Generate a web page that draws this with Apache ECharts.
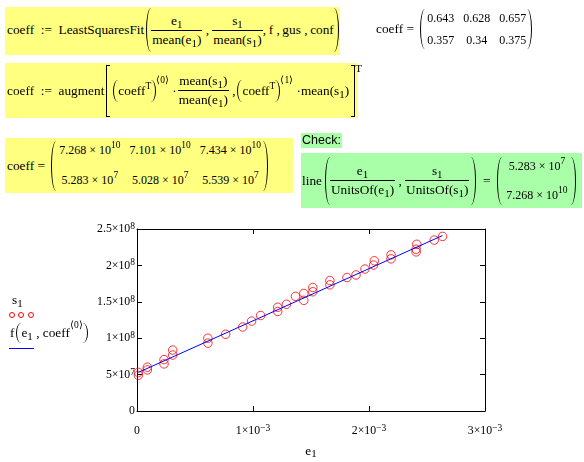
<!DOCTYPE html>
<html><head><meta charset="utf-8">
<script src="https://cdn.jsdelivr.net/npm/echarts@6/dist/echarts.min.js"></script>
<style>
html,body{margin:0;padding:0;background:#fff;}
#wrap{position:relative;width:584px;height:462px;overflow:hidden;font-family:'Liberation Serif','Times New Roman',serif;font-size:13.3px;color:#000;}
#chart{position:absolute;left:0;top:0;width:584px;height:462px;}
.box{position:absolute;}
.y{background:#ffff80;}
.g{background:#a8ffa8;}
.row{position:absolute;display:flex;align-items:center;white-space:pre;line-height:1;}
.frac{display:inline-flex;flex-direction:column;align-items:stretch;text-align:center;}
.frac>.n{border-bottom:1px solid #000;padding:0 1px 2px;height:14px;line-height:14px;}
.frac>.d{padding:2px 1px 0;height:14px;line-height:14px;}
.sb{font-size:11px;position:relative;top:3px;}
.sp{font-size:9.5px;position:relative;top:-6px;}
.lp,.rp{display:inline-block;width:5px;box-sizing:border-box;flex:none;}
.lp{border-left:1px solid #000;border-radius:100% 0 0 100%/50% 0 0 50%;}
.rp{border-right:1px solid #000;border-radius:0 100% 100% 0/0 50% 50% 0;}
.lb{display:inline-block;width:4px;box-sizing:border-box;border:1px solid #000;border-right:none;flex:none;}
.rb{display:inline-block;width:4px;box-sizing:border-box;border:1px solid #000;border-left:none;flex:none;}
.mat{display:inline-grid;justify-items:center;align-items:center;font-size:12px;line-height:12px;}
.mat .sp{font-size:9.5px;top:-6px;}
.circ{position:absolute;width:6px;height:6px;box-sizing:border-box;border:1px solid #f00;border-radius:50%;}
</style>
</head>
<body>
<div id="wrap">
<div id="chart"></div>

<!-- box 1 -->
<div class="box y" style="left:5px;top:7px;width:335px;height:48px;"></div>
<div class="row" style="left:7px;top:7px;height:46px;">
<span>coeff  :=  LeastSquaresFit</span><span class="lp" style="height:44px;margin-left:2px;"></span><span class="frac" style="margin-left:0px;"><span class="n">e<span class="sb">1</span></span><span class="d">mean(e<span class="sb">1</span>)</span></span><span> , </span><span class="frac"><span class="n">s<span class="sb">1</span></span><span class="d">mean(s<span class="sb">1</span>)</span></span><span>,&#8201;f ,&#8201;gus ,&#8201;conf</span><span class="rp" style="height:44px;margin-left:0px;"></span>
</div>

<!-- coeff = small matrix -->
<div class="row" style="left:376px;top:8px;height:42px;">
<span>coeff = </span><span class="lp" style="height:40px;margin-left:3px;"></span><span class="mat" style="grid-template-columns:repeat(3,auto);column-gap:9px;row-gap:10px;margin:0 1px 0 2px;"><span>0.643</span><span>0.628</span><span>0.657</span><span>0.357</span><span>0.34</span><span>0.375</span></span><span class="rp" style="height:40px;"></span>
</div>

<!-- box 2 -->
<div class="box y" style="left:5px;top:63px;width:353px;height:55px;"></div>
<div class="row" style="left:7px;top:63px;height:55px;">
<span>coeff  :=  augment</span><span class="lb" style="height:52px;margin-left:2px;"></span><span class="lp" style="height:22px;margin-left:3px;"></span><span>coeff<span class="sp">T</span></span><span class="rp" style="height:22px;"></span><span class="sp" style="top:-10px;">⟨0⟩</span><span> ·</span><span class="frac" style="margin-left:1px;"><span class="n">mean(s<span class="sb">1</span>)</span><span class="d">mean(e<span class="sb">1</span>)</span></span><span> ,</span><span class="lp" style="height:22px;margin-left:2px;"></span><span>coeff<span class="sp">T</span></span><span class="rp" style="height:22px;"></span><span class="sp" style="top:-10px;">⟨1⟩</span><span> ·mean(s<span class="sb">1</span>)</span><span class="rb" style="height:52px;margin-left:2px;"></span><span class="sp" style="top:-22px;font-size:11px;">T</span>
</div>

<!-- box 3 -->
<div class="box y" style="left:5px;top:138px;width:288px;height:55px;"></div>
<div class="row" style="left:7px;top:138px;height:55px;">
<span>coeff = </span><span class="lp" style="height:50px;margin-left:3px;"></span><span class="mat" style="grid-template-columns:repeat(3,auto);column-gap:9px;row-gap:17px;margin:0 2px 0 3px;"><span>7.268 × 10<span class="sp">10</span></span><span>7.101 × 10<span class="sp">10</span></span><span>7.434 × 10<span class="sp">10</span></span><span>5.283 × 10<span class="sp">7</span></span><span>5.028 × 10<span class="sp">7</span></span><span>5.539 × 10<span class="sp">7</span></span></span><span class="rp" style="height:50px;"></span>
</div>

<!-- Check -->
<div class="box g" style="left:301px;top:133px;width:41px;height:15px;font-family:'Liberation Sans',Arial,sans-serif;font-size:12.5px;line-height:15px;padding-left:1px;box-sizing:border-box;">Check:</div>

<!-- green box -->
<div class="box g" style="left:301px;top:153px;width:281px;height:55px;"></div>
<div class="row" style="left:302px;top:153px;height:55px;">
<span>line</span><span class="lp" style="height:48px;margin-left:3px;"></span><span class="frac"><span class="n">e<span class="sb">1</span></span><span class="d">UnitsOf(e<span class="sb">1</span>)</span></span><span> , </span><span class="frac"><span class="n">s<span class="sb">1</span></span><span class="d">UnitsOf(s<span class="sb">1</span>)</span></span><span class="rp" style="height:48px;margin-left:2px;"></span><span>  =  </span><span class="lp" style="height:48px;"></span><span class="mat" style="grid-template-columns:auto;row-gap:16px;margin:0 3px 0 4px;"><span>5.283 × 10<span class="sp">7</span></span><span>7.268 × 10<span class="sp">10</span></span></span><span class="rp" style="height:48px;"></span>
</div>

<!-- legend -->
<div class="row" style="left:12px;top:293px;height:14px;"><span>s<span class="sb">1</span></span></div>
<div class="circ" style="left:9px;top:312px;"></div>
<div class="circ" style="left:18px;top:312px;"></div>
<div class="circ" style="left:28px;top:312px;"></div>
<div class="row" style="left:10px;top:322px;height:22px;"><span>f</span><span class="lp" style="height:20px;margin-left:2px;"></span><span>e<span class="sb">1</span> , coeff</span><span class="sp" style="top:-7px;">⟨0⟩</span><span class="rp" style="height:20px;"></span></div>
<div style="position:absolute;left:9px;top:348px;width:25px;height:1px;background:#0000ff;"></div>
</div>

<script>
const e1 = [0.0000115,0.0000115,0.000089,0.000089,0.000233,0.000233,0.000308,0.000308,0.000611,0.000611,
  0.000764,0.000911,0.000988,0.001066,0.001213,0.001213,0.001288,0.001366,0.001438,0.001438,
  0.001516,0.001516,0.001663,0.001663,0.001810,0.001888,0.001965,0.002040,0.002046,0.002190,
  0.002190,0.002406,0.002406,0.002412,0.002562,0.002634];
const s1 = [4.9e7,5.3e7,5.65e7,6.02e7,6.47e7,7.06e7,7.69e7,8.37e7,9.32e7,1.0e8,
  1.054e8,1.154e8,1.235e8,1.312e8,1.367e8,1.425e8,1.466e8,1.575e8,1.520e8,1.615e8,
  1.638e8,1.697e8,1.733e8,1.792e8,1.833e8,1.869e8,1.950e8,2.005e8,2.063e8,2.090e8,
  2.145e8,2.186e8,2.222e8,2.29e8,2.348e8,2.398e8];
// fitted line as drawn
const fitE = [0.0000115, 0.002634];
const fitS = [5.3e7, 2.41e8];
// tick labels
const xTickBase = ['0','1×10','2×10','3×10'];
const xTickExp  = ['','−3','−3','−3'];
const yTickBase = ['0','5×10','1×10','1.5×10','2×10','2.5×10'];
const yTickExp  = ['','7','8','8','8','8'];

const FF = "'Liberation Serif','Times New Roman',serif";
const rich = {
  n:{fontFamily:FF,fontSize:11.8,color:'#000',lineHeight:15},
  s:{fontFamily:FF,fontSize:9.5,color:'#000',lineHeight:8,verticalAlign:'top'}
};
function lab(base, exp, i){
  if(!base[i]) return '';
  return exp[i] ? '{n|'+base[i]+'}{s|'+exp[i]+'}' : '{n|'+base[i]+'}';
}
const chart = echarts.init(document.getElementById('chart'), null, {renderer:'canvas'});
const axLine = {show:true,onZero:false,lineStyle:{color:'#000',width:1}};
const axTick = {show:true,inside:true,length:5,lineStyle:{color:'#000',width:1}};
chart.setOption({
  animation:false,
  grid:{left:137,top:229,width:348,height:182,containLabel:false},
  xAxis:[
    {type:'value',position:'bottom',min:0,max:0.003,interval:0.001,
     axisLine:axLine,axisTick:axTick,splitLine:{show:false},
     axisLabel:{margin:12,formatter:(v)=>lab(xTickBase,xTickExp,Math.round(v/0.001)),rich:rich},
     name:'{a|e}{b|1}',nameLocation:'middle',nameGap:33,
     nameTextStyle:{rich:{a:{fontFamily:FF,fontSize:13.3,color:'#000',lineHeight:16},b:{fontFamily:FF,fontSize:11,color:'#000',lineHeight:8,verticalAlign:'bottom'}}}},
    {type:'value',position:'top',min:0,max:0.003,interval:0.001,
     axisLine:axLine,axisTick:axTick,splitLine:{show:false},axisLabel:{show:false}}
  ],
  yAxis:[
    {type:'value',position:'left',min:0,max:2.5e8,interval:5e7,
     axisLine:axLine,axisTick:axTick,splitLine:{show:false},
     axisLabel:{margin:2,formatter:(v)=>lab(yTickBase,yTickExp,Math.round(v/5e7)),rich:rich}},
    {type:'value',position:'right',min:0,max:2.5e8,interval:5e7,
     axisLine:axLine,axisTick:axTick,splitLine:{show:false},axisLabel:{show:false}}
  ],
  series:[
    {type:'scatter',xAxisIndex:0,yAxisIndex:0,symbol:'circle',symbolSize:8.5,
     itemStyle:{color:'rgba(0,0,0,0)',borderColor:'#ff0000',borderWidth:1},
     data:e1.map((x,i)=>[x,s1[i]])},
    {type:'line',xAxisIndex:0,yAxisIndex:0,symbol:'none',
     lineStyle:{color:'#0000ff',width:1},
     data:fitE.map((x,i)=>[x,fitS[i]])}
  ]
});
</script>
</body></html>
